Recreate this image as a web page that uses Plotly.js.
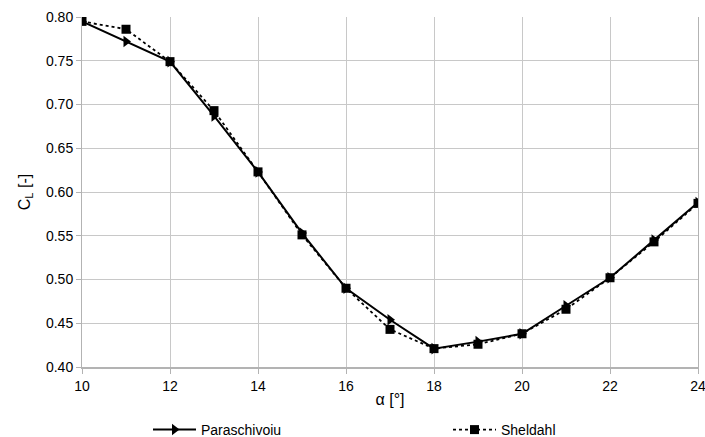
<!DOCTYPE html>
<html>
<head>
<meta charset="utf-8">
<script src="https://cdn.plot.ly/plotly-3.0.1.min.js"></script>
<style>html,body{margin:0;padding:0;background:#fff;}#chart{width:705px;height:437px;}</style>
</head>
<body>
<div id="chart"></div>
<script>
const alpha = [10, 11, 12, 13, 14, 15, 16, 17, 18, 19, 20, 21, 22, 23, 24];
const paraschivoiu = [0.795, 0.772, 0.749, 0.687, 0.623, 0.553, 0.490, 0.454, 0.421, 0.429, 0.438, 0.470, 0.502, 0.545, 0.588];
const sheldahl = [0.795, 0.786, 0.749, 0.693, 0.623, 0.551, 0.490, 0.443, 0.421, 0.426, 0.438, 0.466, 0.502, 0.543, 0.587];
const xTicks = [10, 12, 14, 16, 18, 20, 22, 24];
const yTicks = [0.40, 0.45, 0.50, 0.55, 0.60, 0.65, 0.70, 0.75, 0.80];

const traces = [
  {x: alpha, y: paraschivoiu, name: 'Paraschivoiu', mode: 'lines+markers', legend: 'legend',
   line: {color: '#000', width: 2, dash: 'solid'},
   marker: {symbol: 'triangle-right', size: 10, color: '#000'}},
  {x: alpha, y: sheldahl, name: 'Sheldahl', mode: 'lines+markers', legend: 'legend2',
   line: {color: '#000', width: 1.8, dash: 'dot'},
   marker: {symbol: 'square', size: 9, color: '#000'}}
];

const legBase = {orientation: 'h', y: -0.18, xanchor: 'left', yanchor: 'middle',
                 itemwidth: 43, font: {size: 14}, bgcolor: 'rgba(0,0,0,0)'};

const layout = {
  width: 705, height: 437,
  margin: {l: 82, r: 7, t: 17, b: 70, autoexpand: false},
  paper_bgcolor: '#fff', plot_bgcolor: '#fff',
  font: {family: 'Liberation Sans, Arial, sans-serif', size: 14, color: '#000'},
  showlegend: true,
  legend: Object.assign({}, legBase, {x: (148 - 82) / 616}),
  legend2: Object.assign({}, legBase, {x: (448 - 82) / 616}),
  xaxis: {range: [10, 24], tickvals: xTicks, ticktext: xTicks.map(String),
          showgrid: true, gridcolor: '#c8c8c8', gridwidth: 1,
          showline: true, linecolor: '#b3b3b3', linewidth: 2, mirror: false,
          ticks: 'outside', ticklen: 5, tickcolor: '#b3b3b3', ticklabeloverflow: 'allow',
          zeroline: false, title: {text: 'α [°]', font: {size: 16}, standoff: 1}},
  yaxis: {range: [0.40, 0.80], tickvals: yTicks, ticktext: yTicks.map(v => v.toFixed(2)),
          showgrid: true, gridcolor: '#c8c8c8', gridwidth: 1,
          showline: true, linecolor: '#b3b3b3', linewidth: 1, mirror: true,
          ticks: 'outside', ticklen: 5, tickcolor: '#b3b3b3', ticklabeloverflow: 'allow',
          zeroline: false, title: {text: 'C<sub>L</sub> [-]', font: {size: 16}, standoff: 11}}
};

Plotly.newPlot('chart', traces, layout, {displayModeBar: false, staticPlot: true});
</script>
</body>
</html>
